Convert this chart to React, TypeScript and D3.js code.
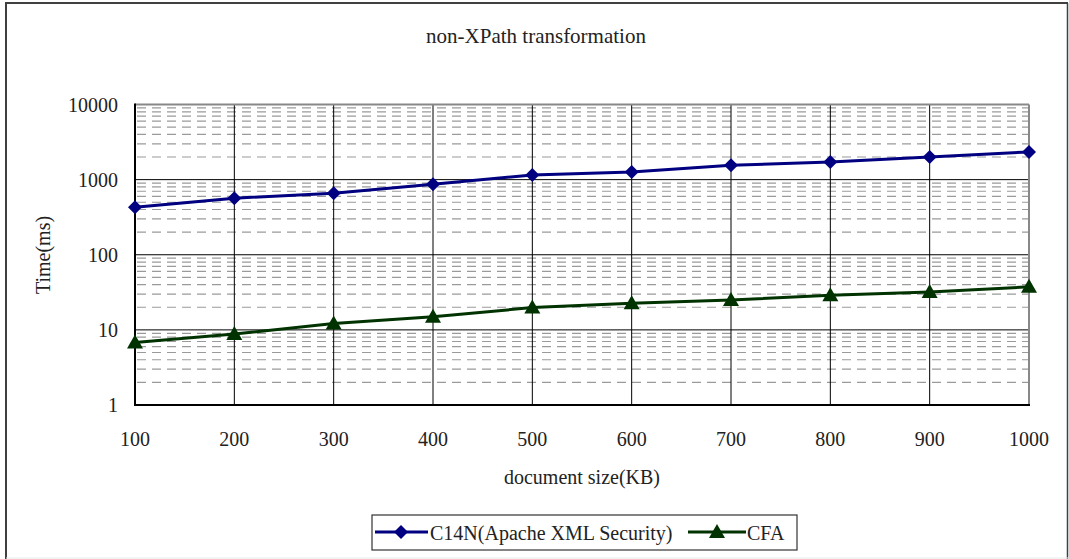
import React from "react";
import * as d3 from "d3";

const sizes = [100, 200, 300, 400, 500, 600, 700, 800, 900, 1000];
const c14nTimes = [430, 566, 660, 870, 1150, 1260, 1550, 1720, 2000, 2340];
const cfaTimes = [6.8, 8.8, 12.2, 14.9, 19.8, 22.7, 24.9, 29, 32, 37.4];
const yTicks = [1, 10, 100, 1000, 10000];
const seriesNames = ["C14N(Apache XML Security)", "CFA"];
const titleText = "non-XPath transformation";
const xTitle = "document size(KB)";
const yTitle = "Time(ms)";

const W = 1069;
const H = 559;
const L = 135, R = 1029, T = 104.5, B = 405;
const FONT = "'Liberation Serif', 'DejaVu Serif', serif";
const BLUE = "#000080";
const GREEN = "#003300";
const txt = { fontFamily: FONT };

export default function App() {
  const x = d3.scaleLinear().domain([100, 1000]).range([L, R]);
  const y = d3.scaleLog().domain([1, 10000]).range([B, T]);
  const minor: number[] = [];
  for (let d = 1; d < 10000; d *= 10) for (let k = 2; k <= 9; k++) minor.push(d * k);
  const line = d3.line<number>().x((_, i) => x(sizes[i])).y((v) => y(v));
  const diamond = (cx: number, cy: number, r = 7) =>
    `M${cx},${cy - r}L${cx + r},${cy}L${cx},${cy + r}L${cx - r},${cy}Z`;
  const tri = (cx: number, cy: number) =>
    `M${cx},${cy - 8}L${cx + 8},${cy + 6}L${cx - 8},${cy + 6}Z`;

  return (
    <div style={{ position: "absolute", left: 0, top: 0 }}>
      <svg width={W} height={H} style={{ display: "block", background: "#fff" }}>
        <rect x={0} y={0} width={W} height={H} fill="#fff" />
        {/* outer frame */}
        <line x1={6} y1={3} x2={6} y2={H} stroke="#404040" strokeWidth={2} />
        <line x1={5} y1={3} x2={1068} y2={3} stroke="#404040" strokeWidth={2} />
        <line x1={1067.5} y1={3} x2={1067.5} y2={H} stroke="#404040" strokeWidth={1.5} />
        <line x1={6} y1={558} x2={W} y2={558} stroke="#e8e8e8" strokeWidth={1} />

        <text style={txt} x={536} y={43} textAnchor="middle" fontSize={21} fill="#222">{titleText}</text>

        {/* minor grid */}
        {minor.map((v) => (
          <line key={"m" + v} x1={L + 2} x2={R} y1={y(v)} y2={y(v)} stroke="#9a9a9a" strokeWidth={1.2} strokeDasharray="9,6" />
        ))}
        {/* major horizontal grid */}
        {yTicks.slice(1, -1).map((v) => (
          <line key={"M" + v} x1={L} x2={R} y1={y(v)} y2={y(v)} stroke="#000" strokeWidth={1} />
        ))}
        {/* vertical grid */}
        {sizes.slice(1, -1).map((s) => (
          <line key={"v" + s} x1={x(s)} x2={x(s)} y1={T} y2={B} stroke="#000" strokeWidth={1} />
        ))}
        {/* plot border */}
        <line x1={L} x2={R} y1={T} y2={T} stroke="#888" strokeWidth={2} />
        <line x1={R} x2={R} y1={T} y2={B} stroke="#888" strokeWidth={2} />
        <line x1={L} x2={L} y1={T - 1} y2={B + 1} stroke="#000" strokeWidth={2} />
        <line x1={L} x2={R + 1} y1={B} y2={B} stroke="#000" strokeWidth={2} />

        {/* y tick labels */}
        {yTicks.map((v) => (
          <text style={txt} key={"yt" + v} x={118} y={y(v)} dy="0.35em" textAnchor="end" fontSize={20} fill="#222">{v}</text>
        ))}
        {/* x tick labels */}
        {sizes.map((s) => (
          <text style={txt} key={"xt" + s} x={x(s)} y={439} dy="0.35em" textAnchor="middle" fontSize={20} fill="#222">{s}</text>
        ))}
        <text style={txt} x={582} y={477} dy="0.35em" textAnchor="middle" fontSize={20} fill="#222">{xTitle}</text>
        <text style={txt} transform={`translate(43,255) rotate(-90)`} textAnchor="middle" dy="0.35em" fontSize={20} fill="#222">{yTitle}</text>

        {/* series */}
        <path d={line(c14nTimes) || ""} fill="none" stroke={BLUE} strokeWidth={3} />
        {c14nTimes.map((v, i) => (
          <path key={"d" + i} d={diamond(x(sizes[i]), y(v))} fill={BLUE} />
        ))}
        <path d={line(cfaTimes) || ""} fill="none" stroke={GREEN} strokeWidth={3} />
        {cfaTimes.map((v, i) => (
          <path key={"t" + i} d={tri(x(sizes[i]), y(v))} fill={GREEN} />
        ))}

        {/* legend */}
        <rect x={372} y={515} width={425} height={35} fill="#fff" stroke="#333" strokeWidth={1.2} />
        <line x1={375} x2={428} y1={532} y2={532} stroke={BLUE} strokeWidth={3} />
        <path d={diamond(401, 532)} fill={BLUE} />
        <text style={txt} x={430} y={533} dy="0.35em" fontSize={20} fill="#222">{seriesNames[0]}</text>
        <line x1={688} x2={746} y1={532} y2={532} stroke={GREEN} strokeWidth={3} />
        <path d={tri(717, 532)} fill={GREEN} />
        <text style={txt} x={747} y={533} dy="0.35em" fontSize={20} fill="#222">{seriesNames[1]}</text>
      </svg>
    </div>
  );
}
